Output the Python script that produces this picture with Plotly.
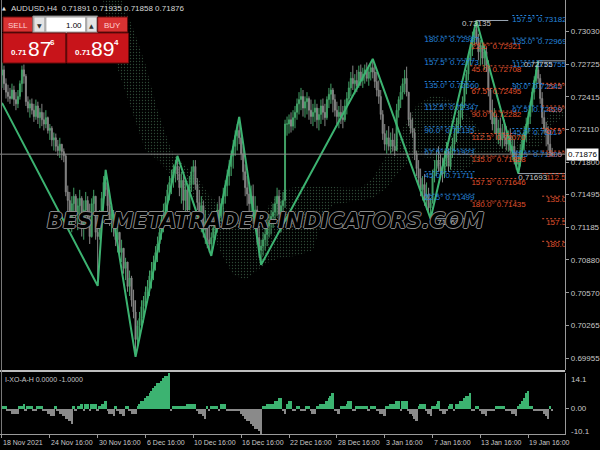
import plotly.graph_objects as go

# ---------------- data ----------------
highs = [
    .7274,.7271,.7259,.7253,.7250,.7254,.7252,.7246,.7248,.7257,
    .7271,.7272,.7263,.7242,.7239,.7240,.7235,.7239,.7237,.7231,
    .7235,.7227,.7229,.7223,.7216,.7214,.7208,.7207,.7201,.7203,
    .7197,.7193,.7188,.7158,.7152,.7148,.7156,.7150,.7146,.7154,
    .7148,.7144,.7152,.7148,.7141,.7146,.7154,.7148,.7120,.7135,
    .7152,.7167,.71728,.7159,.7148,.7141,.7135,.7126,.7120,.7114,
    .7107,.7097,.7090,.7086,.7078,.7073,.7060,.7050,.7031,.7039,
    .7050,.7054,.7063,.7069,.7078,.7086,.7092,.7101,.7110,.7120,
    .7131,.7141,.7148,.7159,.7167,.7173,.7178,.7182,.7186,.7176,
    .7171,.7167,.7163,.7158,.7167,.7176,.7182,.7182,.7165,.7154,
    .7148,.7144,.7135,.7127,.7120,.7114,.7124,.7131,.7141,.7148,
    .7146,.7156,.7163,.7173,.7182,.7191,.7201,.7210,.7216,.72227,
    .7212,.7195,.7178,.7167,.7159,.7158,.7159,.7148,.7139,.7120,
    .7107,.7114,.7120,.7126,.7131,.7135,.7141,.7148,.7156,.7154,
    .7144,.7152,.7220,.7223,.7225,.7227,.7229,.7233,.7240,.7246,
    .7250,.7248,.7242,.7246,.7242,.7239,.7235,.7239,.7235,.7231,
    .7239,.7240,.7235,.7242,.7250,.7254,.7250,.7244,.7237,.7233,
    .7239,.7233,.7239,.7246,.7256,.7265,.7271,.7263,.7267,.7271,
    .7272,.7269,.7272,.7274,.7271,.7274,.72773,.7271,.7265,.7257,
    .7248,.7229,.7216,.7210,.7214,.7208,.7212,.7207,.7235,.7242,
    .7252,.7259,.7267,.7270,.7242,.7227,.7222,.7212,.7191,.7182,
    .7174,.7167,.7169,.7161,.7156,.7146,.7173,.7182,.7191,.7195,
    .7188,.7184,.7191,.7199,.7193,.7195,.7203,.7212,.7222,.7229,
    .7235,.7242,.7254,.7267,.7280,.7291,.7303,.7310,.73135,.7301,
    .7295,.7293,.7290,.7288,.7276,.7250,.7239,.7231,.7225,.7220,
    .7222,.7216,.7220,.7214,.7210,.7212,.7205,.7201,.7191,.7186,
    .7197,.7207,.7214,.7222,.7227,.7237,.7250,.7261,.7271,.72755,
    .7263,.7246,.7229,.7218,.7214,.7210,.71935]

lows = [
    .7250,.7248,.7240,.7237,.7235,.7239,.7233,.7229,.7231,.7239,
    .7246,.7254,.7233,.7227,.7222,.7225,.7218,.7220,.7216,.7212,
    .7214,.7210,.7212,.7207,.7201,.7195,.7191,.7190,.7186,.7184,
    .7182,.7180,.7148,.7131,.7120,.7114,.7129,.7122,.7116,.7124,
    .7110,.7107,.7127,.7120,.7103,.7109,.7131,.7107,.70636,.7107,
    .7126,.7141,.7148,.7133,.7120,.7114,.7110,.7101,.7095,.7090,
    .7086,.7075,.7069,.7058,.7054,.7044,.7033,.69967,.7007,.7013,
    .7022,.7029,.7041,.7048,.7054,.7061,.7069,.7078,.7086,.7095,
    .7107,.7114,.7124,.7133,.7144,.7150,.7156,.7161,.7163,.7148,
    .7141,.7135,.7131,.7126,.7139,.7152,.7159,.7154,.7135,.7124,
    .7114,.7109,.7103,.7099,.7095,.70918,.7099,.7107,.7114,.7120,
    .7124,.7131,.7141,.7148,.7158,.7167,.7174,.7186,.7191,.7197,
    .7182,.7163,.7148,.7139,.7131,.7126,.7122,.7118,.7103,.7090,
    .70834,.7092,.7097,.7101,.7109,.7112,.7118,.7122,.7129,.7124,
    .7114,.7129,.7137,.7205,.7207,.7208,.7210,.7212,.7220,.7225,
    .7229,.7223,.7222,.7225,.7220,.7216,.7214,.7218,.7212,.7210,
    .7216,.7220,.7214,.7220,.7231,.7235,.7227,.7223,.7216,.7212,
    .7216,.7212,.7218,.7225,.7235,.7242,.7248,.7244,.7246,.7250,
    .7252,.7250,.7254,.7256,.7252,.7257,.7259,.7250,.7242,.7235,
    .7220,.7201,.7191,.7188,.7191,.7188,.7190,.7186,.7191,.7222,
    .7231,.7239,.7244,.7242,.7214,.7207,.7203,.7182,.7167,.7158,
    .7148,.7144,.7139,.7135,.7133,.71268,.7141,.7161,.7167,.7171,
    .7165,.7161,.7165,.7176,.7171,.7173,.7184,.7190,.7199,.7207,
    .7212,.7220,.7231,.7244,.7257,.7271,.7280,.7290,.7291,.7276,
    .7271,.7272,.7267,.7265,.7242,.7220,.7210,.7207,.7201,.7197,
    .7195,.7193,.7195,.7191,.7190,.7188,.7182,.7178,.7173,.71693,
    .7176,.7184,.7191,.7199,.7207,.7216,.7227,.7239,.7250,.7254,
    .7235,.7216,.7207,.7195,.7191,.7186,.71858]

closes = [
    .7267,.7254,.7246,.7242,.7240,.7248,.7239,.7235,.7242,.7254,
    .7267,.7261,.7237,.7231,.7235,.7229,.7223,.7233,.7222,.7227,
    .7220,.7216,.7222,.7210,.7212,.7201,.7203,.7195,.7191,.7197,
    .7190,.7186,.7152,.7144,.7126,.7141,.7148,.7131,.7139,.7146,
    .7120,.7135,.7144,.7126,.7110,.7141,.7148,.7114,.7110,.7131,
    .7146,.7161,.7154,.7139,.7126,.7131,.7118,.7107,.7114,.7095,
    .7099,.7080,.7086,.7063,.7071,.7050,.7039,.7013,.7026,.7033,
    .7044,.7050,.7058,.7063,.7073,.7078,.7086,.7095,.7103,.7114,
    .7126,.7135,.7142,.7154,.7161,.7165,.7173,.7176,.7169,.7156,
    .7163,.7144,.7154,.7135,.7159,.7171,.7176,.7159,.7142,.7131,
    .7139,.7116,.7124,.7107,.7103,.7109,.7118,.7126,.7135,.7129,
    .7141,.7148,.7158,.7167,.7176,.7186,.7195,.7205,.7210,.7203,
    .7188,.7171,.7156,.7150,.7141,.7148,.7129,.7135,.7109,.7097,
    .7101,.7107,.7112,.7120,.7124,.7129,.7133,.7141,.7148,.7131,
    .7139,.7144,.7216,.7216,.7220,.7214,.7222,.7227,.7235,.7239,
    .7242,.7231,.7237,.7240,.7229,.7223,.7227,.7231,.7220,.7225,
    .7233,.7227,.7222,.7239,.7244,.7248,.7239,.7229,.7223,.7227,
    .7222,.7220,.7233,.7240,.7250,.7259,.7254,.7257,.7252,.7265,
    .7257,.7263,.7267,.7259,.7265,.7269,.7265,.7256,.7248,.7242,
    .7225,.7207,.7197,.7203,.7195,.7201,.7195,.7191,.7229,.7239,
    .7246,.7254,.7259,.7246,.7220,.7212,.7208,.7188,.7174,.7165,
    .7154,.7159,.7144,.7150,.7137,.7142,.7167,.7174,.7182,.7176,
    .7171,.7169,.7184,.7191,.7176,.7190,.7197,.7207,.7216,.7222,
    .7229,.7237,.7250,.7263,.7276,.7286,.7295,.7305,.7297,.7284,
    .7290,.7278,.7284,.7271,.7248,.7227,.7216,.7222,.7207,.7212,
    .7201,.7208,.7203,.7197,.7205,.7191,.7195,.7182,.7178,.7182,
    .7191,.7201,.7208,.7216,.7223,.7233,.7246,.7257,.7267,.7259,
    .7240,.7222,.7212,.7208,.7197,.7189,.71876]

first_open = 0.7262
opens = [first_open] + closes[:-1]
bars = list(range(len(closes)))

# XO histogram (sub window)
xo_hist = [
    1,1,1,-1,-1,-2,-2,-2,-2,1,1,2,-1,1,1,1,-1,-1,1,1,
    1,-1,-1,-2,-2,-3,-3,1,-1,-2,-2,-3,-4,-4,-5,-6,1,-1,1,1,
    2,-1,2,2,-1,2,2,2,-1,1,2,2,3,-1,-2,-2,-3,1,-1,-2,
    -2,-3,1,1,-1,-2,-2,-2,1,2,3,3,4,5,6,7,8,9,10,10,
    11,12,13,13,14,-1,1,1,1,1,1,1,1,2,2,2,2,2,-1,-2,
    -2,-3,-4,1,-1,1,1,1,1,-1,2,2,2,-1,-1,-1,-1,-1,-1,-1,
    -2,-3,-4,-5,-5,-6,-7,-8,-8,-9,-10,1,1,2,2,2,2,3,3,4,
    4,-1,-2,2,3,3,-1,-1,1,1,-1,-1,-1,1,1,-1,-2,-2,1,1,
    2,2,2,3,4,5,6,-1,-1,-2,1,1,1,2,3,3,-1,-1,1,1,
    1,1,1,1,-1,1,1,1,-1,-1,-2,-2,-3,1,1,2,2,2,3,3,
    -1,3,3,3,-1,-2,-3,-4,-5,1,2,2,2,-1,-2,-3,1,1,2,3,
    -1,-2,-2,-1,1,2,2,-1,2,2,3,3,4,5,5,6,-1,-1,1,1,
    -1,-2,-2,-3,-1,-1,-1,-1,1,1,1,1,1,-1,-1,-1,-2,-2,-3,1,
    2,3,4,6,7,1,1,-1,-1,-1,-1,-1,-2,-3,-4,1,-1]

# ZigZag
zz_bars = [0, 48, 52, 67, 88, 105, 119, 130, 186, 215, 238, 259, 269]
zz_prices = [0.72359, 0.70636, 0.71728, 0.69967, 0.71860, 0.70918, 0.72227,
             0.70834, 0.72773, 0.71268, 0.73135, 0.71693, 0.72755]

# Ichimoku cloud outline
cloud_bars = [50,54,60,66,72,78,85,92,99,104,110,116,122,128,134,140,148,156,160,166,
              172,180,186,193,200,208,216,224,232,240,248,256,262,270,276,283]
cloud_upper = [.7342,.7342,.7333,.7305,.7272,.7229,.7191,.7177,.7163,.7149,
               .7140,.7130,.7121,.7116,.7140,.7154,.7157,.7157,.7157,.7157,
               .7156,.7156,.7165,.7187,.7210,.7234,.7243,.7240,.7229,.7210,
               .7201,.7203,.7212,.7212,.7229,.7235]
cloud_lower = [.7342,.7290,.7257,.7224,.7191,.7182,.7168,.7154,.7140,.7121,
               .7093,.7074,.7069,.7078,.7086,.7090,.7092,.7097,.7121,.7140,
               .7142,.7144,.7146,.7156,.7173,.7187,.7182,.7171,.7173,.7182,
               .7187,.7191,.7193,.7195,.7215,.7224]

# Gann / fib fan levels
fib_blue1_angles = ["180.0°","157.5°","135.0°","112.5°","90.0°","67.5°","45.0°","22.5°"]
fib_blue1_values = [0.72987,0.72773,0.72560,0.72347,0.72135,0.71923,0.71711,0.71499]
fib_red1_angles = ["22.5°","45.0°","67.5°","90.0°","112.5°","135.0°","157.5°","180.0°"]
fib_red1_values = [0.72921,0.72708,0.72495,0.72282,0.72070,0.71858,0.71646,0.71435]
fib_blue2_angles = ["157.5°","135.0°","112.5°","90.0°","67.5°","45.0°","22.5°"]
fib_blue2_values = [0.73182,0.72969,0.72755,0.72542,0.72329,0.72117,0.71905]
fib_red2_angles = ["22.5°","45.0°","67.5°","90.0°","112.5°","135.0°","157.5°","180.0°"]
fib_red2_values = [0.72543,0.72330,0.72118,0.71905,0.71693,0.71480,0.71268,0.71055]
fib_sets = [
    # angles, values, bar_from, bar_to, label_bar, colour
    (fib_blue1_angles, fib_blue1_values, 212, 238, 212, "#2585df"),
    (fib_red1_angles, fib_red1_values, 235, 258, 235.5, "#e0522e"),
    (fib_blue2_angles, fib_blue2_values, 256, 271, 256, "#2585df"),
    (fib_red2_angles, fib_red2_values, 271, 284, 273, "#e0522e"),
]

ext_values = [0.71268, 0.73135, 0.71693, 0.72755]
ext_from = [215, 238, 259, 269]
ext_to = [238, 254, 284, 284]

price_ticks = [0.73030, 0.72725, 0.72415, 0.72110, 0.71800, 0.71495,
               0.71185, 0.70880, 0.70570, 0.70265, 0.69955]
time_tick_bars = [0, 24, 48, 72, 96, 120, 144, 168, 192, 216, 240, 264]
time_tick_labels = ["18 Nov 2021", "24 Nov 16:00", "30 Nov 16:00", "6 Dec 16:00",
                    "10 Dec 16:00", "16 Dec 16:00", "22 Dec 16:00", "28 Dec 16:00",
                    "3 Jan 16:00", "7 Jan 16:00", "13 Jan 16:00", "19 Jan 16:00"]
bid = 0.71876
header = "AUDUSD,H4  0.71891 0.71935 0.71858 0.71876"

# ---------------- figure ----------------
W, H = 600, 450
NARROW = "Liberation Sans Narrow, Arial Narrow, Liberation Sans, Arial"
GREEN = "#3cb371"
GRAY_TXT = "#c8c8c8"

def px(x):
    return x / W

def py(y):
    return 1 - y / H

fig = go.Figure()

# cloud (dotted)
fig.add_trace(go.Scatter(
    x=cloud_bars + cloud_bars[::-1], y=cloud_upper + cloud_lower[::-1],
    mode="lines", line=dict(width=0), fill="toself", fillcolor="rgba(0,0,0,0)",
    fillpattern=dict(shape=".", fgcolor="#5b9069", bgcolor="rgba(0,0,0,0)",
                     size=3, solidity=0.15),
    hoverinfo="skip", xaxis="x", yaxis="y"))

# candles
fig.add_trace(go.Candlestick(
    x=bars, open=opens, high=highs, low=lows, close=closes,
    increasing=dict(line=dict(color="#42a066", width=1), fillcolor="#42a066"),
    decreasing=dict(line=dict(color="#858585", width=1), fillcolor="#858585"),
    whiskerwidth=0, xaxis="x", yaxis="y"))

# zigzag
fig.add_trace(go.Scatter(x=zz_bars, y=zz_prices, mode="lines",
                         line=dict(color=GREEN, width=2), xaxis="x", yaxis="y"))

# extension lines at swing points
ex, ey = [], []
for v, a, b in zip(ext_values, ext_from, ext_to):
    ex += [a, b, None]
    ey += [v, v, None]
fig.add_trace(go.Scatter(x=ex, y=ey, mode="lines",
                         line=dict(color="#9aa6b4", width=1), xaxis="x", yaxis="y"))

# fan levels
for angles, values, b0, b1, lb, col in fib_sets:
    lx, ly = [], []
    for v in values:
        lx += [b0, b1, None]
        ly += [v, v, None]
    fig.add_trace(go.Scatter(x=lx, y=ly, mode="lines",
                             line=dict(color=col, width=1, dash="2px,2px"),
                             xaxis="x", yaxis="y"))
    fig.add_trace(go.Scatter(
        x=[lb] * len(values), y=values, mode="text",
        text=[f"{a} {v:.5f}" for a, v in zip(angles, values)],
        textposition="bottom right", textfont=dict(family=NARROW, size=8, color=col),
        cliponaxis=True, xaxis="x", yaxis="y"))

# swing price labels
fig.add_trace(go.Scatter(
    x=[238, 215, 259, 269], y=[0.73135, 0.71268, 0.71693, 0.72755], mode="text",
    text=["0.73135", "0.71268", "0.71693", "0.72755"],
    textposition=["bottom center", "bottom right", "bottom right", "bottom center"],
    textfont=dict(family=NARROW, size=8, color="#c8c8c8"), xaxis="x", yaxis="y"))

# histogram
fig.add_trace(go.Bar(
    x=bars, y=xo_hist, width=1.0,
    marker=dict(color=[GREEN if v > 0 else "#8a8a8a" for v in xo_hist], line=dict(width=0)),
    xaxis="x2", yaxis="y2"))

XR = [-1, 282.5]
main_dom = [py(370), 1.0]
sub_dom = [py(434), py(373)]
fig.update_layout(
    width=W, height=H, margin=dict(l=0, r=0, t=0, b=0),
    paper_bgcolor="black", plot_bgcolor="black", showlegend=False,
    bargap=0,
    xaxis=dict(domain=[0, px(567)], range=XR, anchor="y", showticklabels=False,
               showgrid=False, zeroline=False, rangeslider=dict(visible=False),
               showline=False),
    xaxis2=dict(domain=[0, px(567)], range=XR, anchor="y2", matches="x",
                showticklabels=False, showgrid=False, zeroline=False,
                tickvals=time_tick_bars, ticks="outside", ticklen=3,
                tickcolor="#9a9a9a", showline=True, linecolor="#9a9a9a"),
    yaxis=dict(domain=main_dom, range=[0.69843, 0.73328], side="right",
               tickvals=price_ticks, ticktext=[f"{v:.5f}" for v in price_ticks],
               ticks="outside", ticklen=3, tickcolor="#9a9a9a",
               tickfont=dict(family=NARROW, size=8, color=GRAY_TXT),
               showgrid=False, zeroline=False, showline=True, linecolor="#9a9a9a"),
    yaxis2=dict(domain=sub_dom, range=[-10.1, 14.1], side="right",
                tickvals=[0], ticktext=["0.00"], ticks="outside", ticklen=3,
                tickcolor="#9a9a9a", tickfont=dict(family=NARROW, size=8, color=GRAY_TXT),
                showgrid=False, zeroline=False, showline=True, linecolor="#9a9a9a"),
)

shapes = []
ann = []

# current price line
shapes.append(dict(type="line", xref="paper", yref="y", x0=0, x1=px(567), y0=bid, y1=bid,
                   line=dict(color="#8c8c8c", width=1)))
# panel separator and left border
shapes.append(dict(type="line", xref="paper", yref="paper", x0=0, x1=px(567),
                   y0=py(371), y1=py(371), line=dict(color="#bdbdbd", width=2)))
shapes.append(dict(type="line", xref="paper", yref="paper", x0=px(1.5), x1=px(1.5),
                   y0=py(434), y1=1, line=dict(color="#7a7a7a", width=1)))

# one-click trading panel
def rect(x0, y0, x1, y1, fill, line="#6a0a0a"):
    shapes.append(dict(type="rect", xref="paper", yref="paper",
                       x0=px(x0), x1=px(x1), y0=py(y1), y1=py(y0),
                       fillcolor=fill, line=dict(color=line, width=1)))

def text(x, y, s, size, color, anchor="center", family=NARROW, weight="normal"):
    ann.append(dict(xref="paper", yref="paper", x=px(x), y=py(y), text=s,
                    showarrow=False, xanchor=anchor, yanchor="middle",
                    font=dict(family=family, size=size, color=color, weight=weight)))

rect(3, 17, 33, 32, "#d83232")
rect(33, 16, 98, 33, "#d0d0d0", "#808080")
rect(34, 17, 45, 32, "#e4e4e4", "#a0a0a0")
rect(46, 17, 86, 32, "#ffffff", "#a0a0a0")
rect(87, 17, 97, 32, "#e4e4e4", "#a0a0a0")
rect(98, 17, 128, 32, "#d83232")
rect(3, 33, 66, 63, "#c8141a")
rect(67, 33, 129, 63, "#c8141a")
text(18, 25, "SELL", 8, "#ffd2d2")
text(113, 25, "BUY", 8, "#ffd2d2")
text(40, 25, "▼", 6, "#333333", family="DejaVu Sans")
text(92, 25, "▲", 6, "#333333", family="DejaVu Sans")
text(84, 25, "1.00", 8, "#000000", anchor="right")
text(19.5, 53, "0.71", 8, "#ffffff", weight="bold")
text(39.5, 48, "87", 21, "#ffffff")
text(53, 42, "6", 8, "#ffffff", weight="bold")
text(83, 53, "0.71", 8, "#ffffff", weight="bold")
text(103, 48, "89", 21, "#ffffff")
text(117, 42, "4", 8, "#ffffff", weight="bold")

# header
text(4, 8, "▲", 5, "#e0e0e0", family="DejaVu Sans")
text(9, 8, header, 8, "#d8d8d8", anchor="left")
# sub window title and scale labels
text(3, 379, "I-XO-A-H 0.0000 -1.0000", 7, GRAY_TXT, anchor="left")
text(571, 379, "14.1", 8, GRAY_TXT, anchor="left")
text(571, 431, "-10.1", 8, GRAY_TXT, anchor="left")

# time labels
for b, lab in zip(time_tick_bars, time_tick_labels):
    ann.append(dict(xref="x2", yref="paper", x=b, y=py(442), text=lab, showarrow=False,
                    xanchor="left", yanchor="middle", xshift=-1,
                    font=dict(family=NARROW, size=7, color=GRAY_TXT)))

# bid box
ann.append(dict(xref="paper", yref="y", x=px(568), y=bid, text="0.71876", showarrow=False,
                xanchor="left", yanchor="middle", bgcolor="#ffffff", borderpad=1,
                font=dict(family=NARROW, size=8, color="#000000")))

# watermark (outlined letters)
sh = "#8a8a8a"
ann.append(dict(xref="paper", yref="paper", x=px(266), y=py(221),
                text="BEST-METATRADER-INDICATORS.COM", showarrow=False,
                xanchor="center", yanchor="middle",
                font=dict(family="DejaVu Sans", size=21, color="#000000", style="italic",
                          weight="bold",
                          shadow=f"1px 0 0 {sh}, -1px 0 0 {sh}, 0 1px 0 {sh}, 0 -1px 0 {sh}")))

fig.update_layout(shapes=shapes, annotations=ann)

fig.write_html("out.html", config={"displayModeBar": False},
               post_script="document.body.style.margin='0';document.body.style.background='black';")
